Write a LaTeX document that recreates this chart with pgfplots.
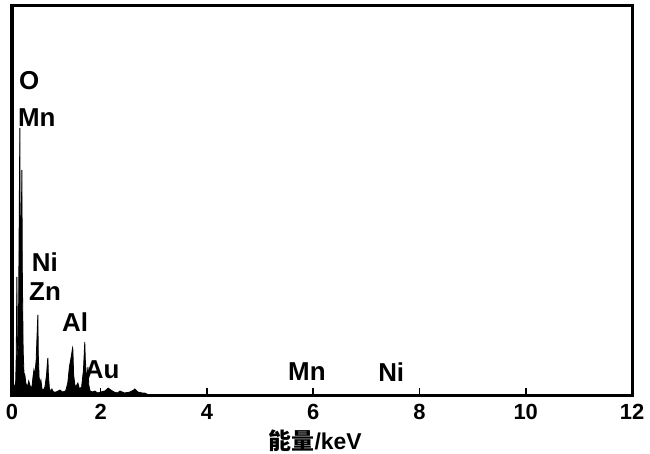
\documentclass[border=0pt]{standalone}
\usepackage{fontspec}
\setmainfont{Liberation Sans}
\newfontfamily\cjk{Noto Sans CJK SC}
\usepackage{pgfplots}
\pgfplotsset{compat=1.18}
\begin{document}
\begin{tikzpicture}
\begin{axis}[
  width=620bp, height=390bp, scale only axis,
  xmin=0.33, xmax=12, ymin=0, ymax=390,
  axis line style={line width=3bp},
  xtick={0.33,2,4,6,8,10,12},
  xticklabels={0,2,4,6,8,10,12},
  xtick pos=bottom, ytick=\empty,
  tick align=inside, major tick length=7bp,
  every tick/.style={black, line width=1.5bp},
  xticklabel style={font=\fontsize{22}{22}\selectfont\bfseries, inner sep=0pt, yshift=-9bp},
  clip=false,
]
\addplot[fill=black, draw=black, line width=0.8bp] coordinates {
(0.33,0) (0.34,6) (0.36,10) (0.38,8) (0.40,14) (0.41,40) (0.422,118) (0.43,60)
(0.44,35) (0.45,50) (0.46,130) (0.47,210) (0.478,267) (0.485,150) (0.495,90)
(0.505,170) (0.516,225) (0.525,120) (0.54,45) (0.555,22) (0.573,20) (0.59,12)
(0.62,8) (0.645,14) (0.667,10) (0.69,6) (0.71,10) (0.725,18) (0.742,25) (0.76,20)
(0.785,35) (0.81,72) (0.817,80) (0.825,40) (0.84,18) (0.855,12) (0.874,15)
(0.895,6) (0.92,5) (0.95,8) (0.98,20) (1.00,35) (1.006,37) (1.015,20) (1.035,6)
(1.06,4) (1.081,6) (1.11,3) (1.16,3) (1.20,4) (1.232,5) (1.28,3) (1.34,4)
(1.38,12) (1.41,28) (1.45,40) (1.47,47) (1.476,45) (1.49,20) (1.52,8) (1.55,10)
(1.57,12) (1.60,6) (1.64,8) (1.675,25) (1.70,53) (1.71,35) (1.735,15) (1.76,28)
(1.775,10) (1.80,4) (1.85,3) (1.89,4) (1.94,2) (2.00,3) (2.08,4) (2.14,7)
(2.19,5) (2.25,3) (2.32,2) (2.36,4) (2.45,2) (2.55,3) (2.62,5) (2.64,6) (2.70,3)
(2.78,2) (2.83,2) (2.90,0) (12,0)
} \closedcycle;
\begin{scope}[every node/.style={anchor=west, inner sep=0pt, font=\fontsize{26}{26}\selectfont\bfseries}]
\node at (axis cs:0.46,314) {O};
\node at (axis cs:0.44,277) {Mn};
\node at (axis cs:0.70,133) {Ni};
\node at (axis cs:0.65,103) {Zn};
\node at (axis cs:1.27,73) {Al};
\node at (axis cs:1.70,25) {Au};
\node at (axis cs:5.525,23) {Mn};
\node at (axis cs:7.22,23) {Ni};
\end{scope}
\node[anchor=north, inner sep=0pt, font=\fontsize{23}{23}\selectfont\bfseries] at ([yshift=-35bp]rel axis cs:0.489,0) {{\cjk 能量}/keV};
\coordinate (SW) at (rel axis cs:0,0);
\coordinate (NE) at (rel axis cs:1,1);
\end{axis}
\pgfresetboundingbox
\path ([shift={(-12bp,-59bp)}]SW) rectangle ([shift={(18bp,5bp)}]NE);
\end{tikzpicture}
\end{document}
